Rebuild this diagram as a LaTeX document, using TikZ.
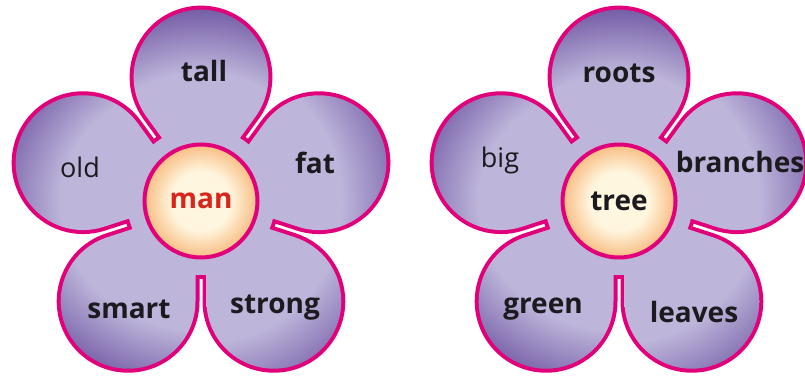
\documentclass[tikz,border=0pt]{standalone}
\usepackage{fontspec}
\setmainfont{Open Sans}

\definecolor{rim}{HTML}{E2007A}
\definecolor{lilac}{HTML}{BDB5DA}
\definecolor{lilacdark}{HTML}{6C52A0}
\definecolor{cream}{HTML}{FFF6DF}
\definecolor{peach}{HTML}{F8BD83}
\definecolor{manred}{HTML}{D9261C}
\definecolor{ink}{HTML}{1C1A1E}
\pgfdeclareradialshading{petalglow}{\pgfpoint{0bp}{0bp}}{color(0bp)=(lilac); color(16bp)=(lilac); color(25bp)=(lilacdark); color(50bp)=(lilacdark)}
\pgfdeclareradialshading{heartglow}{\pgfpoint{0bp}{0bp}}{color(0bp)=(cream); color(13bp)=(cream); color(25bp)=(peach); color(50bp)=(peach)}

\begin{document}
\begin{tikzpicture}[x=1pt, y=1pt]
    \def\D{124}
    \def\h{5.5}
    \def\rin{74}
    \pgfmathsetmacro\R{\D*sin(36)-\h}
    \pgfmathsetmacro\e{\h/sin(36)}
    \pgfmathsetmacro\a{\D*cos(36)}
    \tikzset{
        rimline/.style={draw=rim, line width=8pt},
        glow/.style={path picture={\shade[shading=petalglow] (0,0) circle (196);}},
        heart/.style={circle, draw=rim, line width=4pt, minimum size=113pt, inner sep=0pt,
            shade, shading=heartglow, font=\bfseries\fontsize{28}{28}\selectfont},
        word/.style={anchor=base, inner sep=0pt, text=ink, font=\bfseries\fontsize{28}{28}\selectfont},
        thin/.style={word, font=\fontsize{27}{27}\selectfont}
    }
    \useasboundingbox (0,0) rectangle (805,376);

    \foreach \cx in {201, 619} {
        \begin{scope}[shift={(\cx,175)}]
            % double width outline, the fill hides the inner half
            \draw[rimline] (0,0) circle (\rin);
            \foreach \t in {0,72,...,288} {
                \draw[rimline, rotate=\t] (0,\e) -- ([shift={(144:\h)}]54:\a)
                    arc[start angle=-36, end angle=216, radius=\R] -- cycle;
            }
            \path[glow] (0,0) circle (\rin);
            \foreach \t in {0,72,...,288} {
                \path[glow, rotate=\t] (0,\e) -- ([shift={(144:\h)}]54:\a)
                    arc[start angle=-36, end angle=216, radius=\R] -- cycle;
            }
        \end{scope}
    }

    \node[heart, text=manred] (man) at (201,175) {man};
    \node[word] (tall) at (204,295) {tall};
    \node[thin] (old) at (80,199) {old};
    \node[word] (fat) at (315,203) {fat};
    \node[word] (smart) at (129,58) {smart};
    \node[word] (strong) at (275,63) {strong};

    \node[heart, text=ink] (tree) at (619,175) {tree};
    \node[word] (roots) at (619,294) {roots};
    \node[thin] (big) at (500,209) {big};
    \node[word] (branches) at (740,204) {branches};
    \node[word] (green) at (543,63) {green};
    \node[word] (leaves) at (694,54) {leaves};
\end{tikzpicture}
\end{document}
